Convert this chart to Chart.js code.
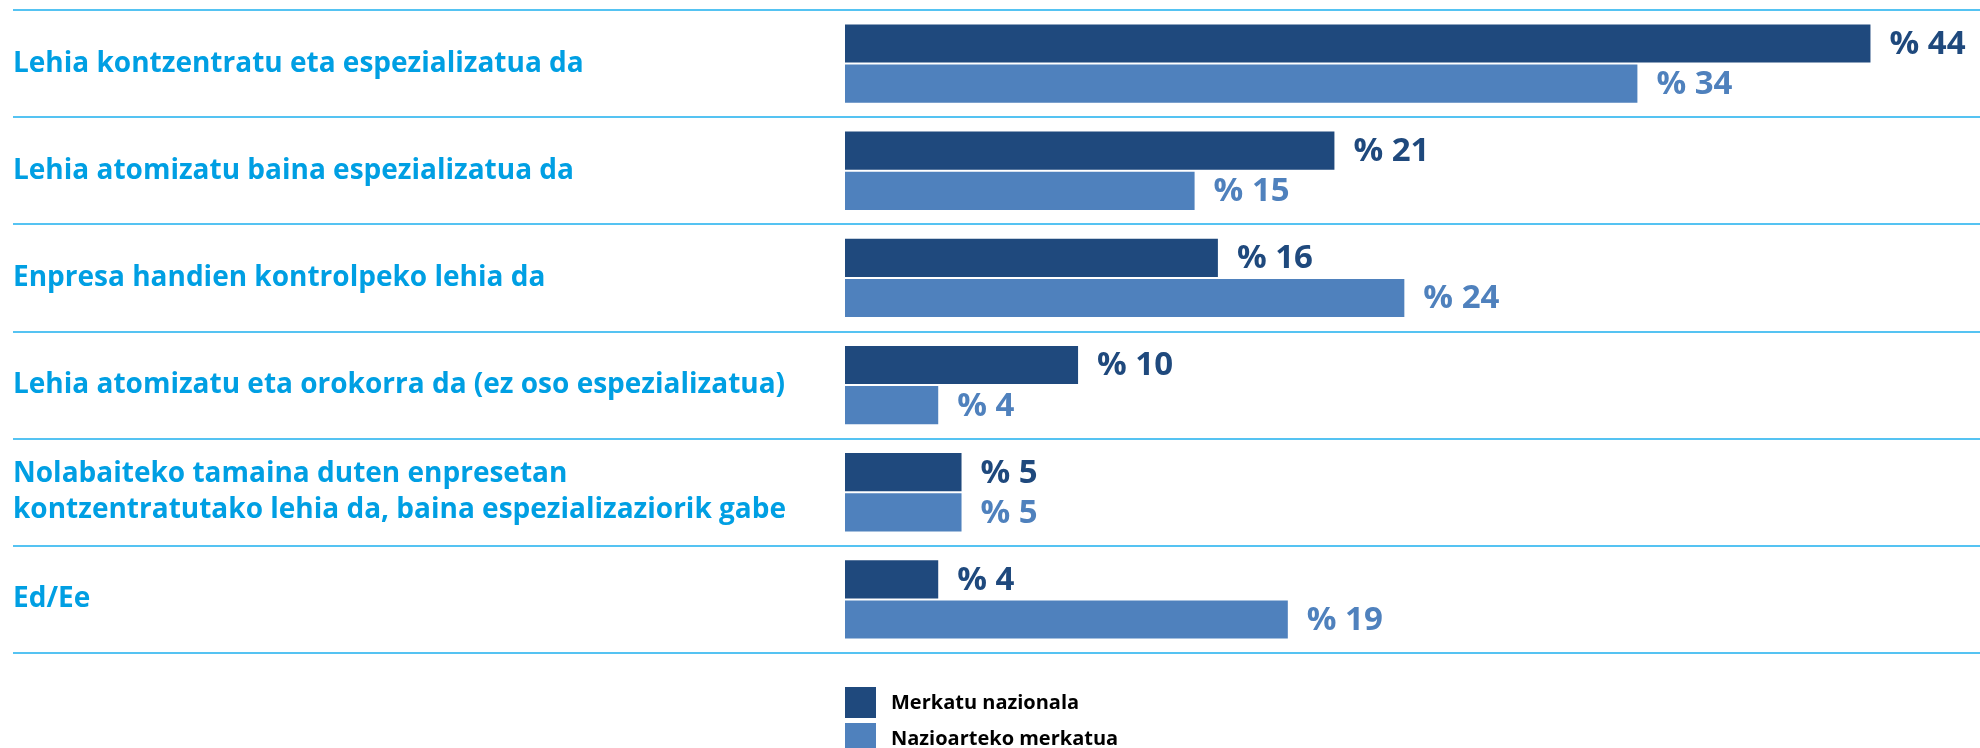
<!DOCTYPE html>
<html>
<head>
<meta charset="utf-8">
<script src="https://cdn.jsdelivr.net/npm/chart.js@4"></script>
<style>
  html, body { margin: 0; padding: 0; background: #ffffff; }
  #wrap { width: 1980px; height: 748px; position: relative; }
</style>
</head>
<body>
<div id="wrap"><canvas id="c"></canvas></div>
<script>
const categories = [
  'Lehia kontzentratu eta espezializatua da',
  'Lehia atomizatu baina espezializatua da',
  'Enpresa handien kontrolpeko lehia da',
  'Lehia atomizatu eta orokorra da (ez oso espezializatua)',
  ['Nolabaiteko tamaina duten enpresetan', 'kontzentratutako lehia da, baina espezializaziorik gabe'],
  'Ed/Ee'
];
const seriesNames = ['Merkatu nazionala', 'Nazioarteko merkatua'];
const nationalValues = [44, 21, 16, 10, 5, 4];
const internationalValues = [34, 15, 24, 4, 5, 19];
const valuePrefix = '% ';

const darkBlue = '#1f497d';
const lightBlue = '#4f81bd';
const labelBlue = '#009fe3';
const lineBlue = '#55c3f2';
const FONT = "'Open Sans', 'DejaVu Sans', sans-serif";

const valueLabels = {
  id: 'valueLabels',
  afterDatasetsDraw(chart) {
    const ctx = chart.ctx;
    ctx.save();
    ctx.font = 'bold 33px ' + FONT;
    ctx.textAlign = 'left';
    ctx.textBaseline = 'middle';
    chart.data.datasets.forEach((ds, di) => {
      const meta = chart.getDatasetMeta(di);
      ctx.fillStyle = ds.backgroundColor;
      meta.data.forEach((bar, i) => {
        ctx.fillText(valuePrefix + ds.data[i], bar.x + 19, bar.y + 1);
      });
    });
    ctx.restore();
  }
};

const sideLegend = {
  id: 'sideLegend',
  afterDraw(chart) {
    const ctx = chart.ctx;
    const x0 = chart.chartArea.left;
    const y0 = chart.chartArea.bottom + 34;
    const box = 31, step = 36;
    ctx.save();
    ctx.font = 'bold 20px ' + FONT;
    ctx.textAlign = 'left';
    ctx.textBaseline = 'middle';
    chart.data.datasets.forEach((ds, i) => {
      const y = y0 + i * step;
      ctx.fillStyle = ds.backgroundColor;
      ctx.fillRect(x0, y, box, box);
      ctx.fillStyle = '#000000';
      ctx.fillText(ds.label, x0 + 46, y + box / 2 + 1);
    });
    ctx.restore();
  }
};

new Chart(document.getElementById('c'), {
  type: 'bar',
  data: {
    labels: categories,
    datasets: [
      { label: seriesNames[0], data: nationalValues, backgroundColor: darkBlue,
        barPercentage: 0.95, categoryPercentage: 0.75 },
      { label: seriesNames[1], data: internationalValues, backgroundColor: lightBlue,
        barPercentage: 0.95, categoryPercentage: 0.75 }
    ]
  },
  options: {
    indexAxis: 'y',
    responsive: true,
    maintainAspectRatio: false,
    animation: false,
    layout: { padding: { left: 13, top: 10, right: 0, bottom: 95 } },
    plugins: {
      legend: { display: false },
      tooltip: { enabled: false }
    },
    scales: {
      x: {
        display: false,
        min: 0,
        max: 48.7
      },
      y: {
        afterFit(scale) {
          scale.width = 832;
          scale.paddingTop = 0;
          scale.paddingBottom = 0;
        },
        border: { display: false },
        grid: {
          offset: true,
          color: lineBlue,
          lineWidth: 2,
          drawTicks: true,
          tickLength: 832
        },
        ticks: {
          crossAlign: 'far',
          color: labelBlue,
          padding: 0,
          font: { family: FONT, size: 28, weight: 'bold', lineHeight: 1.3 }
        }
      }
    }
  },
  plugins: [valueLabels, sideLegend]
});
</script>
</body>
</html>
